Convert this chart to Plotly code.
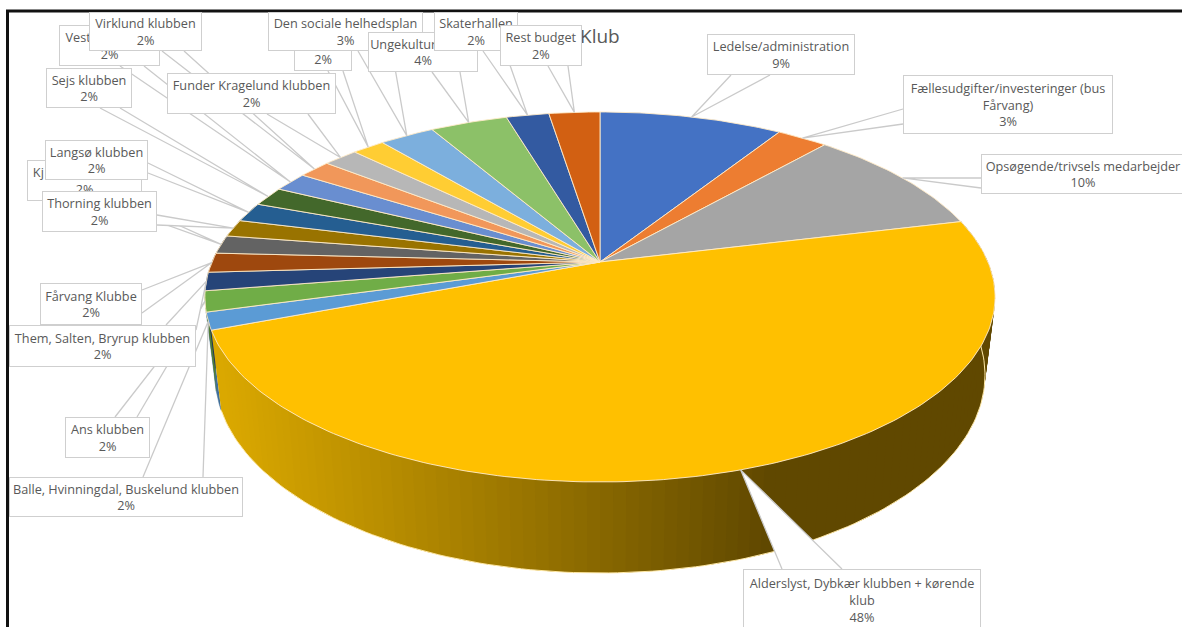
import math
import plotly.graph_objects as go

NB = "\u00a0"
names = ["Ledelse/administration", "Fællesudgifter/investeringer (bus<br>Fårvang)", "Opsøgende/trivsels medarbejder",
         "Alderslyst, Dybkær klubben + kørende<br>klub", "Balle, Hvinningdal, Buskelund klubben", "Ans klubben",
         "Them, Salten, Bryrup klubben", "Fårvang Klubbe", "Kj" + NB * 28, "Thorning klubben", "Langsø klubben",
         "Sejs klubben", "Vest" + NB * 19, "Virklund klubben", "Funder Kragelund klubben", NB,
         "Den sociale helhedsplan", "Ungekultur" + NB * 12, "Skaterhallen", "Rest budget"]
values = [9.0, 2.5, 9.7, 48.0, 1.5, 1.8, 1.6, 1.7, 1.6, 1.5, 1.7, 1.7, 1.7, 1.6, 1.7, 1.6, 2.7, 3.8, 2.1, 2.5]
percents = ["9%", "3%", "10%", "48%", "2%", "2%", "2%", "2%", "2%", "2%", "2%", "2%", "2%", "2%", "2%", "2%", "3%", "4%", "2%", "2%"]
colors = ["#4472C4", "#ED7D31", "#A5A5A5", "#FFC000", "#5B9BD5", "#70AD47", "#264478", "#9E480E", "#636363", "#997300",
          "#255E91", "#43682B", "#698ED0", "#F1975A", "#B7B7B7", "#FFCD33", "#7CAFDD", "#8CC168", "#335AA1", "#D26012"]

# label box: left, top, right, bottom (page pixels)
boxes = [(707, 34, 855, 75), (903, 75, 1113, 134), (981, 154, 1185, 194), (743, 569, 981, 631),
         (9, 477, 243, 517), (65, 417, 150, 458), (9, 325, 196, 367), (40, 283, 142, 325),
         (27, 160, 142, 201), (42, 191, 157, 232), (45, 140, 148, 180), (46, 68, 132, 108),
         (59, 25, 160, 66), (89, 12, 202, 51), (167, 73, 336, 114), (294, 30, 352, 71),
         (268, 12, 423, 51), (368, 32, 478, 72), (434, 12, 518, 51), (500, 25, 582, 66)]
# where the callout leaves its box
bases = [((731, 75), (770, 75)), ((903, 109), (903, 124)), ((981, 178), (981, 188)), ((782, 569), (842, 569)),
         ((143, 477), (203, 477)), ((115, 417), (137, 417)), ((166, 325), (196, 330)), ((142, 290), (142, 313)),
         ((100, 201), (125, 201)), ((157, 215), (157, 225)), ((148, 163), (148, 173)), ((100, 108), (120, 108)),
         ((120, 66), (144, 66)), ((162, 51), (184, 51)), ((267, 114), (308, 114)), ((328, 71), (343, 71)),
         ((358, 51), (392, 51)), ((432, 72), (460, 72)), ((483, 51), (505, 51)), ((548, 66), (568, 66))]

CX, APEX_Y = 600, 262
K, A, B = 0.189, 178.4, 388
TOP = (600, 297, 395, 185)
BOT = (600, 375, 385, 198)


def rim(theta):
    X, Y = math.sin(theta), math.cos(theta)
    d = 1 + K * Y
    return CX + B * X / d, APEX_Y - A * Y / d


def lower(theta):
    x, y = rim(theta)
    phi = math.atan2((y - TOP[1]) / TOP[3], (x - TOP[0]) / TOP[2])
    return BOT[0] + BOT[2] * math.cos(phi), BOT[1] + BOT[3] * math.sin(phi)


def darken(h, f=0.72):
    return "rgb(%d,%d,%d)" % tuple(int(int(h[i:i + 2], 16) * f) for i in (1, 3, 5))


def wall_colour(x):
    t = max(0.0, min(1.0, (x - 218) / (745 - 218)))
    a, b = (218, 168, 0), (96, 72, 0)
    return "rgb(%d,%d,%d)" % tuple(round(p + (q - p) * t) for p, q in zip(a, b))


total = sum(values)
edges = [0.0]
for v in values:
    edges.append(edges[-1] + v / total * 2 * math.pi)

fig = go.Figure()


def poly(xs, ys, fill, line, width=1.0):
    fig.add_trace(go.Scatter(x=xs, y=ys, mode="lines", fill="toself", fillcolor=fill,
                             line=dict(color=line, width=width), hoverinfo="skip", showlegend=False))


# side wall: left slices first, then the large slice in overlapping shaded strips
for i in range(4, len(values)):
    t0, t1 = edges[i], edges[i + 1]
    if math.sin((t0 + t1) / 2) > 0 or t0 > math.radians(285):
        continue
    ts = [t0 + (t1 - t0) * j / 6 for j in range(7)]
    up = [rim(t) for t in ts]
    lo = [lower(t) for t in reversed(ts)]
    poly([p[0] for p in up + lo], [p[1] for p in up + lo], darken(colors[i]), darken(colors[i]), 0.5)

i = 3
n = 110
step = (edges[i + 1] - edges[i]) / n
for j in range(n):
    t1 = edges[i] + step * (j + 1)
    t0 = max(edges[i], t1 - 3 * step)
    ts = [t0, (t0 + t1) / 2, t1]
    up = [rim(t) for t in ts]
    lo = [lower(t) for t in reversed(ts)]
    p = up + lo
    c = wall_colour((rim(t1 - step / 2)[0] + lower(t1 - step / 2)[0]) / 2)
    poly([q[0] for q in p], [q[1] for q in p], c, "rgba(0,0,0,0)", 0)

# cream edge along the lower rim
ts = [edges[3] + (edges[4] - edges[3]) * j / 160 for j in range(161)]
fig.add_trace(go.Scatter(x=[lower(t)[0] for t in ts], y=[lower(t)[1] for t in ts], mode="lines",
                         line=dict(color="#FFE9A8", width=1), hoverinfo="skip", showlegend=False))

# top surface
for i, c in enumerate(colors):
    t0, t1 = edges[i], edges[i + 1]
    m = max(4, int((t1 - t0) * 60))
    pts = [rim(t0 + (t1 - t0) * j / m) for j in range(m + 1)]
    xs = [CX] + [p[0] for p in pts] + [CX]
    ys = [APEX_Y] + [p[1] for p in pts] + [APEX_Y]
    poly(xs, ys, c, "#FFEBC8", 0.9)

# callouts
for i, (b0, b1) in enumerate(bases):
    tip = rim((edges[i] + edges[i + 1]) / 2)
    poly([b0[0], tip[0], b1[0]], [b0[1], tip[1], b1[1]], "white", "#CACACA", 1.3)

annotations = [dict(x=600, y=36, xref="x", yref="y", text="Klub", showarrow=False, xanchor="center", yanchor="middle",
                    font=dict(family="Open Sans", size=19, color="#595959"))]
for nm, pc, bx in zip(names, percents, boxes):
    txt = nm + "<br>" + pc
    l, t, r, b = bx
    annotations.append(dict(x=l, y=t, xref="x", yref="y", xanchor="left", yanchor="top", text=txt, showarrow=False,
                            width=r - l - 2, height=b - t - 2, align="center", valign="middle", bgcolor="white",
                            bordercolor="#CFCFCF", borderwidth=1, borderpad=0,
                            font=dict(family="Open Sans", size=12.7, color="#595959")))

frame = [dict(type="line", xref="x", yref="y", x0=6, x1=1182, y0=11, y1=11, line=dict(color="#111111", width=3), layer="above"),
         dict(type="line", xref="x", yref="y", x0=7.5, x1=7.5, y0=10, y1=627, line=dict(color="#111111", width=3), layer="above")]

fig.update_layout(width=1182, height=627, margin=dict(l=0, r=0, t=0, b=0), paper_bgcolor="white", plot_bgcolor="white",
                  xaxis=dict(range=[0, 1182], visible=False, fixedrange=True),
                  yaxis=dict(range=[627, 0], visible=False, fixedrange=True),
                  annotations=annotations, shapes=frame, showlegend=False)
fig.write_html("out.html", config={"displayModeBar": False},
               post_script="document.body.style.margin='0';document.body.style.overflow='hidden';")
